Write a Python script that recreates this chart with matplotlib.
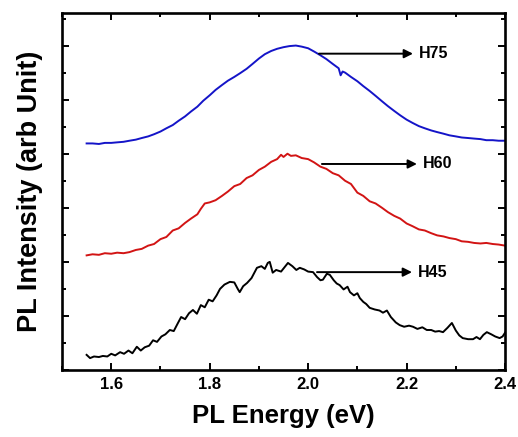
import matplotlib
matplotlib.use('Agg')
import matplotlib.pyplot as plt
from matplotlib.ticker import MultipleLocator, NullFormatter

plt.rcParams['font.family'] = ['Liberation Sans', 'DejaVu Sans']
plt.rcParams['font.weight'] = 'bold'

# H75 spectrum (blue, offset)
h75_x = [1.550, 1.562, 1.575, 1.587, 1.600, 1.612, 1.625, 1.637, 1.650, 1.662,
         1.675, 1.687, 1.700, 1.712, 1.725, 1.737, 1.750, 1.762, 1.775, 1.787,
         1.800, 1.812, 1.825, 1.837, 1.850, 1.862, 1.875, 1.887, 1.900, 1.912,
         1.925, 1.937, 1.950, 1.962, 1.975, 1.987, 2.000, 2.012, 2.025, 2.037,
         2.050, 2.062, 2.066, 2.070, 2.075, 2.087, 2.100, 2.112, 2.125, 2.137,
         2.150, 2.162, 2.175, 2.187, 2.200, 2.212, 2.225, 2.237, 2.250, 2.262,
         2.275, 2.287, 2.300, 2.312, 2.325, 2.337, 2.350, 2.362, 2.375, 2.387,
         2.400]
h75_y = [4.19, 4.19, 4.18, 4.20, 4.20, 4.21, 4.22, 4.24, 4.26, 4.29,
         4.32, 4.36, 4.41, 4.47, 4.53, 4.61, 4.69, 4.78, 4.87, 4.98,
         5.08, 5.18, 5.27, 5.35, 5.42, 5.49, 5.57, 5.66, 5.76, 5.84,
         5.90, 5.94, 5.97, 5.99, 6.00, 5.98, 5.95, 5.89, 5.82, 5.75,
         5.66, 5.58, 5.45, 5.52, 5.50, 5.42, 5.34, 5.25, 5.16, 5.07,
         4.97, 4.88, 4.79, 4.71, 4.63, 4.57, 4.51, 4.47, 4.43, 4.40,
         4.37, 4.34, 4.32, 4.30, 4.29, 4.28, 4.27, 4.25, 4.25, 4.24,
         4.24]

# H60 spectrum (red, offset)
h60_x = [1.550, 1.562, 1.575, 1.587, 1.600, 1.612, 1.625, 1.637, 1.650, 1.662,
         1.675, 1.687, 1.700, 1.712, 1.725, 1.737, 1.750, 1.762, 1.775, 1.782,
         1.790, 1.800, 1.812, 1.825, 1.837, 1.850, 1.862, 1.875, 1.887, 1.900,
         1.912, 1.925, 1.937, 1.945, 1.950, 1.958, 1.965, 1.975, 1.987, 2.000,
         2.012, 2.025, 2.037, 2.050, 2.062, 2.075, 2.087, 2.100, 2.112, 2.125,
         2.137, 2.150, 2.162, 2.175, 2.187, 2.200, 2.212, 2.225, 2.237, 2.250,
         2.262, 2.275, 2.287, 2.300, 2.312, 2.325, 2.337, 2.350, 2.362, 2.375,
         2.387, 2.400]
h60_y = [2.12, 2.14, 2.13, 2.16, 2.15, 2.17, 2.16, 2.18, 2.22, 2.24,
         2.30, 2.33, 2.42, 2.46, 2.58, 2.62, 2.72, 2.80, 2.88, 2.98,
         3.08, 3.10, 3.14, 3.22, 3.30, 3.40, 3.44, 3.55, 3.60, 3.70,
         3.76, 3.85, 3.90, 3.98, 3.94, 4.00, 3.96, 3.97, 3.92, 3.90,
         3.84, 3.76, 3.72, 3.64, 3.60, 3.50, 3.44, 3.28, 3.22, 3.12,
         3.08, 3.00, 2.92, 2.85, 2.80, 2.71, 2.66, 2.60, 2.58, 2.53,
         2.49, 2.47, 2.44, 2.42, 2.38, 2.37, 2.35, 2.34, 2.35, 2.33,
         2.32, 2.30]

# H45 spectrum (black)
h45_x = [1.550, 1.557, 1.565, 1.575, 1.583, 1.592, 1.600, 1.608, 1.618, 1.626,
         1.635, 1.643, 1.652, 1.660, 1.668, 1.677, 1.685, 1.693, 1.702, 1.710,
         1.719, 1.727, 1.735, 1.742, 1.750, 1.758, 1.766, 1.774, 1.782, 1.790,
         1.798, 1.806, 1.814, 1.821, 1.830, 1.841, 1.850, 1.857, 1.861, 1.868,
         1.876, 1.885, 1.896, 1.905, 1.912, 1.918, 1.922, 1.928, 1.935, 1.945,
         1.952, 1.959, 1.968, 1.976, 1.983, 1.992, 2.000, 2.010, 2.018, 2.025,
         2.030, 2.038, 2.044, 2.052, 2.058, 2.064, 2.072, 2.080, 2.085, 2.093,
         2.100, 2.105, 2.112, 2.118, 2.125, 2.135, 2.145, 2.152, 2.160, 2.168,
         2.178, 2.186, 2.195, 2.205, 2.213, 2.222, 2.232, 2.241, 2.250, 2.258,
         2.266, 2.274, 2.283, 2.292, 2.300, 2.307, 2.314, 2.325, 2.335, 2.342,
         2.349, 2.356, 2.363, 2.372, 2.380, 2.389, 2.395, 2.400]
h45_y = [0.28, 0.22, 0.25, 0.24, 0.26, 0.25, 0.30, 0.27, 0.33, 0.30,
         0.36, 0.31, 0.43, 0.36, 0.42, 0.45, 0.55, 0.52, 0.62, 0.66,
         0.74, 0.72, 0.86, 0.98, 0.94, 1.05, 1.11, 1.04, 1.20, 1.16,
         1.30, 1.27, 1.38, 1.50, 1.58, 1.63, 1.62, 1.50, 1.44, 1.55,
         1.61, 1.70, 1.89, 1.92, 1.87, 1.98, 2.00, 1.80, 1.85, 1.82,
         1.90, 1.98, 1.92, 1.85, 1.89, 1.86, 1.82, 1.81, 1.72, 1.66,
         1.67, 1.78, 1.76, 1.66, 1.60, 1.57, 1.49, 1.54, 1.44, 1.38,
         1.42, 1.33, 1.26, 1.22, 1.15, 1.12, 1.10, 1.06, 1.10, 0.98,
         0.88, 0.83, 0.80, 0.82, 0.80, 0.76, 0.79, 0.74, 0.74, 0.71,
         0.72, 0.70, 0.78, 0.87, 0.73, 0.64, 0.59, 0.57, 0.57, 0.61,
         0.57, 0.65, 0.70, 0.66, 0.62, 0.59, 0.62, 0.69]

labels = ['H75', 'H60', 'H45']
arrow_start = [2.022, 2.028, 2.018]
arrow_end = [2.213, 2.221, 2.211]
arrow_y = [5.85, 3.81, 1.81]

fig = plt.figure(figsize=(5.18, 4.37), dpi=100)
ax = fig.add_axes([0.1197, 0.1533, 0.8553, 0.8167])

ax.plot(h75_x, h75_y, color='#1414c8', lw=1.4)
ax.plot(h60_x, h60_y, color='#d21414', lw=1.4)
ax.plot(h45_x, h45_y, color='black', lw=1.4)

for lab, xs, xe, y in zip(labels, arrow_start, arrow_end, arrow_y):
    ax.annotate('', xy=(xe, y), xytext=(xs, y),
                arrowprops=dict(arrowstyle='-|>', color='black', lw=1.4,
                                mutation_scale=13, shrinkA=0, shrinkB=0))
    ax.text(xe + 0.012, y, lab, fontsize=11.5, fontweight='bold',
            va='center', ha='left')

ax.set_xlim(1.5, 2.4)
ax.set_ylim(0, 6.6)
ax.xaxis.set_major_locator(MultipleLocator(0.2))
ax.xaxis.set_minor_locator(MultipleLocator(0.1))
ax.yaxis.set_major_locator(MultipleLocator(1))
ax.yaxis.set_minor_locator(MultipleLocator(0.5))
ax.yaxis.set_major_formatter(NullFormatter())

ax.tick_params(which='both', direction='in', top=True, right=True, width=1.4)
ax.tick_params(which='major', length=5)
ax.tick_params(which='minor', length=3)
ax.tick_params(axis='x', labelsize=12, pad=5)
for lbl in ax.get_xticklabels():
    lbl.set_fontweight('bold')
for sp in ax.spines.values():
    sp.set_linewidth(1.9)

ax.set_xlabel('PL Energy (eV)', fontsize=18.5, fontweight='bold', labelpad=9)
ax.set_ylabel('PL Intensity (arb Unit)', fontsize=19.5, fontweight='bold', labelpad=10)

fig.savefig('out.png', dpi=100)
